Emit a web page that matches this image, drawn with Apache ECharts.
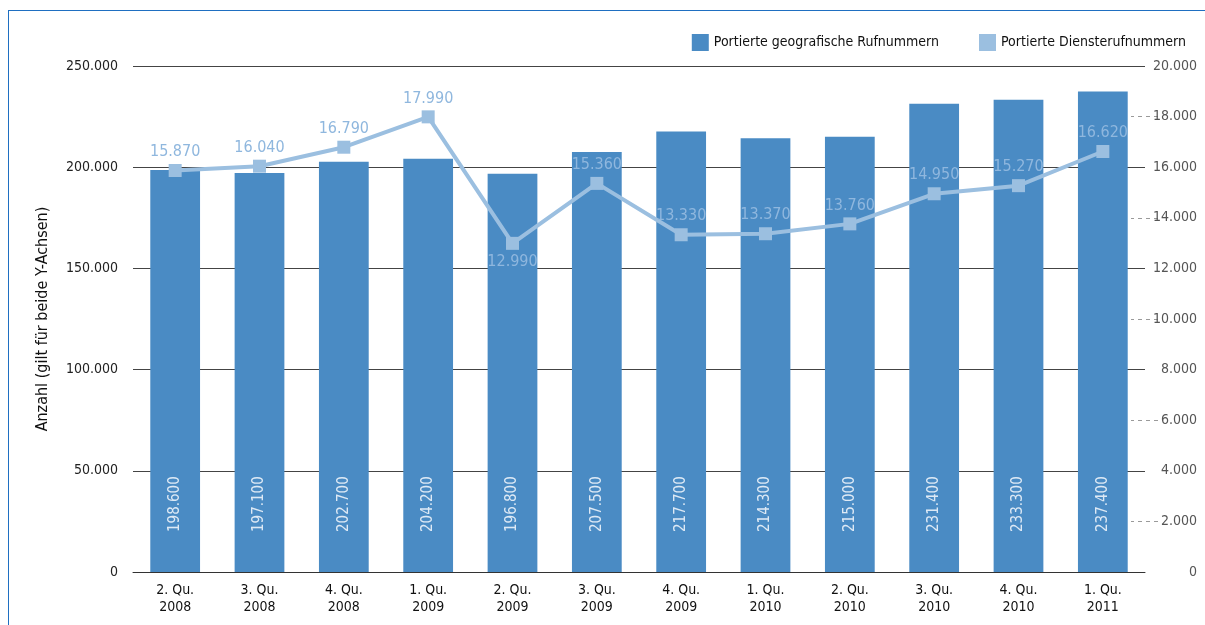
<!DOCTYPE html>
<html>
<head>
<meta charset="utf-8">
<script src="https://cdn.jsdelivr.net/npm/echarts@6/dist/echarts.min.js"></script>
<style>
  html, body { margin: 0; padding: 0; background: #fff; }
  #chartID { width: 1205px; height: 625px; }
  .frame { position: absolute; left: 8px; top: 10px; width: 1300px; height: 700px; border: 1px solid #1f6fc1; pointer-events: none; }
</style>
</head>
<body>
<div class="frame"></div>
<div id="chartID"></div>
<script>
const quarters = [
  '2. Qu.\n2008', '3. Qu.\n2008', '4. Qu.\n2008', '1. Qu.\n2009',
  '2. Qu.\n2009', '3. Qu.\n2009', '4. Qu.\n2009', '1. Qu.\n2010',
  '2. Qu.\n2010', '3. Qu.\n2010', '4. Qu.\n2010', '1. Qu.\n2011',
]
const geoNumbers = [198600, 197100, 202700, 204200, 196800, 207500, 217700, 214300, 215000, 231400, 233300, 237400]
const serviceNumbers = [15870, 16040, 16790, 17990, 12990, 15360, 13330, 13370, 13760, 14950, 15270, 16620]
// indices of line labels that sit under the point
const labelsBelow = [4]
const rightTickLabels = ['0', '2.000', '4.000', '6.000', '8.000', '10.000', '12.000', '14.000', '16.000', '18.000', '20.000']

const FONT = "'Liberation Sans Narrow', 'DejaVu Sans Condensed', 'Roboto', sans-serif"

function fmt(v) {
  return String(v).replace(/\B(?=(\d{3})+(?!\d))/g, '.')
}

const chartObj = echarts.init(document.getElementById('chartID'))

const option = {
  backgroundColor: 'transparent',
  animation: false,
  textStyle: { fontFamily: FONT },
  legend: {
    right: 14,
    top: 29,
    icon: 'rect',
    itemWidth: 17,
    itemHeight: 17,
    itemGap: 40,
    textStyle: { fontFamily: FONT, fontSize: 14, color: '#111' },
  },
  grid: {
    left: 133,
    right: 60,
    top: 66,
    bottom: 53,
  },
  xAxis: {
    type: 'category',
    data: quarters,
    axisLine: { show: true, lineStyle: { color: '#333', width: 1 } },
    axisTick: { show: false },
    axisLabel: {
      fontFamily: FONT,
      fontSize: 14,
      lineHeight: 17,
      color: '#111',
      margin: 10,
      interval: 0,
    },
  },
  yAxis: [
    {
      type: 'value',
      min: 0,
      max: 250000,
      interval: 50000,
      name: 'Anzahl (gilt für beide Y-Achsen)',
      nameLocation: 'middle',
      nameGap: 82,
      nameTextStyle: { fontFamily: FONT, fontSize: 16, color: '#111' },
      axisLine: { show: false },
      axisTick: { show: false },
      axisLabel: {
        fontFamily: FONT,
        fontSize: 14,
        color: '#222',
        margin: 15,
        formatter: v => fmt(v),
      },
      splitLine: { show: true, lineStyle: { color: '#444', width: 1 } },
    },
    {
      type: 'value',
      position: 'right',
      min: 0,
      max: 20000,
      show: false,
    },
    {
      type: 'category',
      position: 'right',
      offset: 13,
      boundaryGap: false,
      data: rightTickLabels,
      axisLine: { show: false },
      axisTick: {
        show: true,
        inside: true,
        length: 27,
        interval: (index) => index % 2 === 1,
        lineStyle: { color: '#9a9a9a', width: 1, type: [4, 4] },
      },
      axisLabel: {
        interval: 0,
        align: 'right',
        margin: 39,
        fontFamily: FONT,
        fontSize: 14,
        color: '#555',
      },
      splitLine: { show: false },
    },
  ],
  series: [
    {
      name: 'Portierte geografische Rufnummern',
      type: 'bar',
      yAxisIndex: 0,
      barWidth: '59%',
      data: geoNumbers,
      itemStyle: { color: '#4a8bc4' },
      label: {
        show: true,
        position: 'insideBottom',
        distance: 40,
        rotate: 90,
        align: 'left',
        verticalAlign: 'middle',
        fontFamily: FONT,
        fontSize: 15,
        color: '#dde9f5',
        formatter: p => fmt(p.value),
      },
    },
    {
      name: 'Portierte Diensterufnummern',
      type: 'line',
      yAxisIndex: 1,
      z: 5,
      symbol: 'rect',
      symbolSize: 13,
      data: serviceNumbers.map((v, i) => ({
        value: v,
        label: { position: labelsBelow.includes(i) ? 'bottom' : 'top' },
      })),
      itemStyle: { color: '#9bbfe0' },
      lineStyle: { color: '#9bbfe0', width: 4 },
      label: {
        show: true,
        position: 'top',
        distance: 4,
        fontFamily: FONT,
        fontSize: 16,
        color: '#8fb7de',
        formatter: p => fmt(p.value),
      },
    },
  ],
}

chartObj.setOption(option)
</script>
</body>
</html>
